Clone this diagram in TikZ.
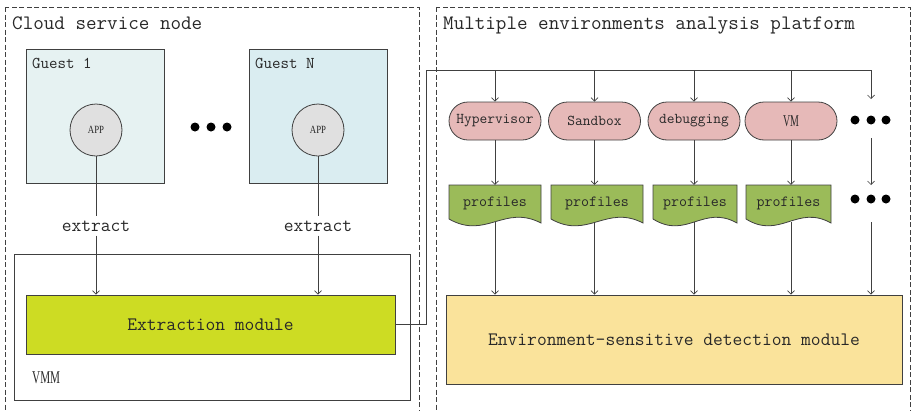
\documentclass[tikz,border=0pt]{standalone}
\usepackage{fontspec}
\newfontfamily\narrowserif{Liberation Serif}
\usetikzlibrary{arrows.meta}
\definecolor{guestA}{RGB}{230,242,242}
\definecolor{guestB}{RGB}{218,237,241}
\definecolor{appgray}{RGB}{224,224,224}
\definecolor{extrgreen}{RGB}{205,220,35}
\definecolor{pillpink}{RGB}{230,185,184}
\definecolor{profgreen}{RGB}{155,187,89}
\definecolor{detyellow}{RGB}{250,227,155}
\definecolor{ink}{RGB}{40,40,40}
\definecolor{edge}{RGB}{64,64,64}

% document-shaped box with a wavy bottom edge: name, centre x, width
\newcommand\docshape[3]{%
  \filldraw[profline] ({#2-#3/2},185) -- ({#2+#3/2},185) -- ({#2+#3/2},223)
    .. controls ({#2+0.1*#3},204) and ({#2-0.1*#3},240) .. ({#2-#3/2},219) -- cycle;
  \node[proftext, minimum width=#3pt] (#1) at (#2,203.5) {profiles};
}

\begin{document}
\begin{tikzpicture}[x=1pt,y=-1pt,
  every node/.style={text=ink},
  frame/.style={draw=edge, dash pattern=on 5pt off 2.5pt, line width=0.7pt},
  box/.style={draw=edge, line width=0.8pt, inner sep=0pt},
  title/.style={font=\ttfamily\fontsize{20.5}{22}\selectfont, anchor=base west, inner sep=0pt},
  lbl/.style={font=\ttfamily\fontsize{16.5}{19}\selectfont, anchor=base west, inner sep=0pt},
  app/.style={circle, draw=edge, line width=0.8pt, fill=appgray, minimum size=52pt, inner sep=0pt,
    font=\narrowserif\fontsize{11}{12}\selectfont},
  txt/.style={font=\ttfamily\fontsize{19}{21}\selectfont, inner sep=4pt},
  bigtxt/.style={font=\ttfamily\fontsize{19}{21}\selectfont},
  pill/.style={draw=edge, line width=0.8pt, fill=pillpink, rounded corners=19pt,
    minimum width=92pt, minimum height=38pt, inner sep=0pt,
    font=\ttfamily\fontsize{15}{17}\selectfont},
  profline/.style={draw=edge, line width=0.8pt, fill=profgreen},
  proftext/.style={inner sep=0pt, minimum height=37pt, font=\ttfamily\fontsize{15.5}{17}\selectfont},
  link/.style={draw=edge, line width=0.7pt},
  arr/.style={draw=edge, line width=0.7pt, -{Straight Barb[length=3.5pt,width=7pt]}},
]
\useasboundingbox (0,0) rectangle (911,410);

% outer dashed regions
\draw[frame] (5,7) rectangle (419,420);
\draw[frame] (436,7) rectangle (910,420);
\node[title] (tcloud) at (12,29) {Cloud service node};
\node[title] (tplat) at (443,29) {Multiple environments analysis platform};

% guests
\node[box, fill=guestA, minimum width=138pt, minimum height=134pt] (g1) at (95,116) {};
\node[box, fill=guestB, minimum width=138pt, minimum height=134pt] (gN) at (318,116) {};
\node[lbl] (g1lbl) at (32,68) {Guest 1};
\node[lbl] (gNlbl) at (255,68) {Guest N};
\node[app] (a1) at (96,130) {\scalebox{0.8}[1]{APP}};
\node[app] (aN) at (318,130) {\scalebox{0.8}[1]{APP}};
\foreach \x in {195,211,227} \fill[black] (\x,127) circle (4.5pt);

% VMM and extraction module
\node[box, minimum width=396pt, minimum height=146pt] (vmm) at (212,327) {};
\node[box, fill=extrgreen, minimum width=369pt, minimum height=59pt, bigtxt] (ext) at (210.5,324.5) {Extraction module};
\node[anchor=base west, inner sep=0pt, font=\narrowserif\fontsize{18}{20}\selectfont] (vmmlbl) at (32,383) {\scalebox{0.62}[1]{VMM}};

\node[txt] (e1) at (96,226) {extract};
\node[txt] (eN) at (318,226) {extract};
\draw[link] (a1) -- (e1);
\draw[link] (aN) -- (eN);
\draw[arr] (e1) -- (e1 |- ext.north);
\draw[arr] (eN) -- (eN |- ext.north);

% analysis environments
\node[pill] (hyp) at (495,121) {Hypervisor};
\node[pill] (sand) at (594.5,121) {Sandbox};
\node[pill] (dbg) at (694,121) {debugging};
\node[pill] (vm) at (791,121) {\narrowserif\fontsize{16.5}{18}\selectfont\scalebox{0.6}[1]{VM}};
\foreach \x in {855,871,886} \fill[black] (\x,120) circle (4.5pt);
\foreach \x in {855,871,886} \fill[black] (\x,199) circle (4.5pt);

\docshape{p1}{495}{92}
\docshape{p2}{597}{92}
\docshape{p3}{695}{84}
\docshape{p4}{788.5}{85}

\node[box, fill=detyellow, minimum width=456pt, minimum height=89pt, bigtxt] (det) at (674,339.5) {Environment-sensitive detection module};

% distribution bus
\coordinate (bus) at (426,70);
\coordinate (busend) at (871,70);
\coordinate (dA) at (871,99);
\coordinate (dB) at (871,138);
\coordinate (dC) at (871,185);
\coordinate (dD) at (871,222);
\draw[link] (ext.east) -| (bus) -- (busend);
\draw[arr] (busend) -- (dA);
\draw[arr] (dB) -- (dC);
\draw[arr] (dD) -- (dD |- det.north);

\foreach \n/\p in {hyp/p1, sand/p2, dbg/p3, vm/p4} {
  \draw[arr] (\n |- bus) -- (\n);
  \draw[arr] (\n) -- (\n |- \p.north);
  \draw[arr] (\n |- \p.south) -- (\n |- det.north);
}
\end{tikzpicture}
\end{document}
